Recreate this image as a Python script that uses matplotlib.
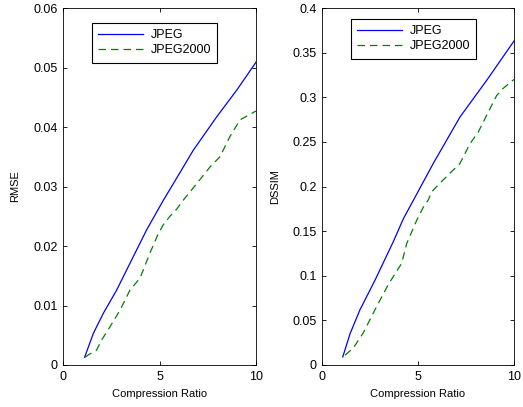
import matplotlib
matplotlib.use('Agg')
import matplotlib.pyplot as plt

plt.rcParams['font.family'] = ['Liberation Sans', 'DejaVu Sans']
plt.rcParams['font.size'] = 9

# RMSE vs compression ratio
rmse_jpeg_x = [1.12, 1.57, 2.09, 2.78, 3.47, 4.33, 5.2, 5.72, 6.75, 7.96, 9.0, 10]
rmse_jpeg_y = [0.0013, 0.0053, 0.0087, 0.0126, 0.0171, 0.0227, 0.0277, 0.0305,
               0.0361, 0.0417, 0.0462, 0.0509]
rmse_j2k_x = [1.15, 1.31, 1.74, 2.0, 2.43, 2.95, 3.47, 3.99, 4.5, 4.94, 5.2, 5.54,
              5.89, 6.23, 6.93, 7.62, 8.13, 8.65, 9.17, 10]
rmse_j2k_y = [0.0013, 0.0017, 0.0025, 0.0042, 0.0064, 0.0092, 0.0126, 0.0146, 0.0188,
              0.0221, 0.0236, 0.0250, 0.0262, 0.0277, 0.0305, 0.0333, 0.0350, 0.0384,
              0.0412, 0.0427]

# DSSIM vs compression ratio
dssim_jpeg_x = [1.08, 1.46, 1.98, 2.76, 3.71, 4.24, 4.67, 5.8, 7.19, 8.58, 10]
dssim_jpeg_y = [0.009, 0.035, 0.062, 0.095, 0.138, 0.164, 0.181, 0.226, 0.278, 0.319, 0.363]
dssim_j2k_x = [1.2, 1.63, 2.15, 2.76, 3.45, 4.15, 4.41, 4.93, 5.28, 5.54, 5.71, 6.06,
               6.67, 7.19, 7.71, 8.14, 8.58, 9.1, 9.44, 10]
dssim_j2k_y = [0.011, 0.019, 0.036, 0.062, 0.090, 0.114, 0.136, 0.162, 0.177, 0.185,
               0.194, 0.202, 0.215, 0.226, 0.248, 0.261, 0.280, 0.302, 0.310, 0.320]

fig = plt.figure(figsize=(5.23, 4.07), dpi=100)
ax1 = fig.add_axes([0.1205, 0.1032, 0.369, 0.877])
ax2 = fig.add_axes([0.6157, 0.1032, 0.367, 0.877])

panels = [
    (ax1, rmse_jpeg_x, rmse_jpeg_y, rmse_j2k_x, rmse_j2k_y, 'RMSE', 0.06,
     [0, 0.01, 0.02, 0.03, 0.04, 0.05, 0.06], ['0', '0.01', '0.02', '0.03', '0.04', '0.05', '0.06'], 0.958),
    (ax2, dssim_jpeg_x, dssim_jpeg_y, dssim_j2k_x, dssim_j2k_y, 'DSSIM', 0.4,
     [0, 0.05, 0.1, 0.15, 0.2, 0.25, 0.3, 0.35, 0.4],
     ['0', '0.05', '0.1', '0.15', '0.2', '0.25', '0.3', '0.35', '0.4'], 0.969),
]

for ax, jx, jy, kx, ky, ylab, ymax, yt, ytl, leg_top in panels:
    ax.plot(jx, jy, color='#0000ff', lw=0.9, label='JPEG')
    ax.plot(kx, ky, color='#008000', lw=0.9, ls=(0, (6, 4)), label='JPEG2000')
    ax.set_xlim(0, 10)
    ax.set_ylim(0, ymax)
    ax.set_xticks([0, 5, 10])
    ax.set_xticklabels(['0', '5', '10'])
    ax.set_yticks(yt)
    ax.set_yticklabels(ytl)
    ax.tick_params(direction='in', top=True, right=True, length=3, width=0.6, pad=4)
    for s in ax.spines.values():
        s.set_linewidth(0.6)
    ax.set_xlabel('Compression Ratio', fontsize=8, labelpad=5)
    ax.set_ylabel(ylab, fontsize=8, labelpad=9)
    leg = ax.legend(loc='upper left', bbox_to_anchor=(0.15, leg_top), fancybox=False,
                    edgecolor='black', framealpha=1, handlelength=3.6, borderpad=0.5,
                    labelspacing=0.25, handletextpad=0.6, borderaxespad=0)
    leg.get_frame().set_linewidth(0.8)

fig.savefig('out.png', dpi=100)
